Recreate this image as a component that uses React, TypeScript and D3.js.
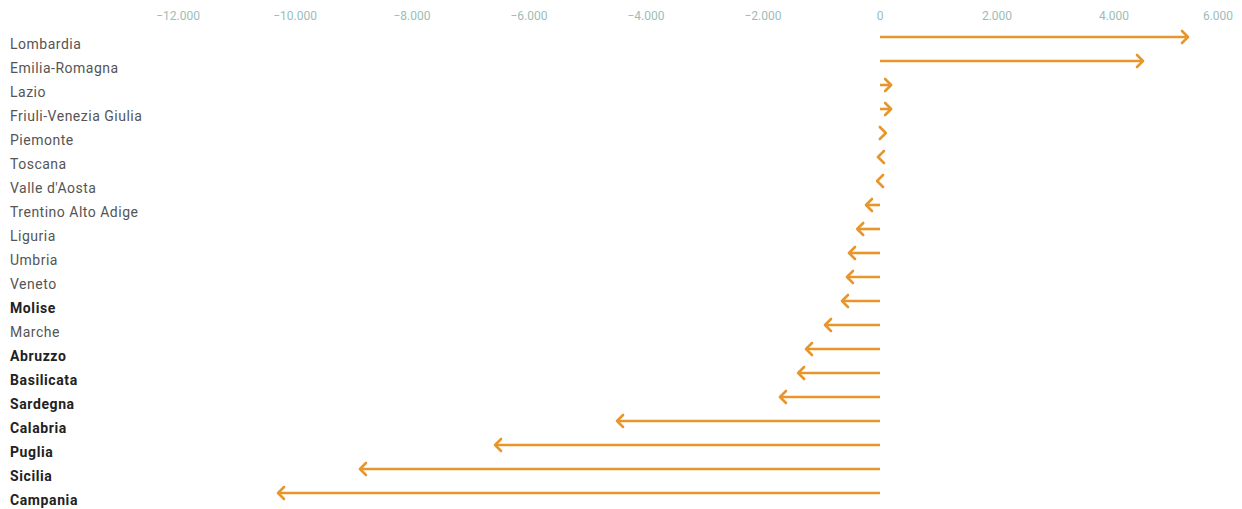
import React from "react";
import * as d3 from "d3";

const regions = [
  "Lombardia", "Emilia-Romagna", "Lazio", "Friuli-Venezia Giulia", "Piemonte",
  "Toscana", "Valle d'Aosta", "Trentino Alto Adige", "Liguria", "Umbria",
  "Veneto", "Molise", "Marche", "Abruzzo", "Basilicata", "Sardegna",
  "Calabria", "Puglia", "Sicilia", "Campania",
];
const values = [
  5265, 4496, 190, 190, 100,
  -35, -50, -240, -390, -530,
  -565, -650, -940, -1265, -1400, -1710,
  -4495, -6580, -8890, -10290,
];
const boldRegions = ["Molise", "Abruzzo", "Basilicata", "Sardegna", "Calabria", "Puglia", "Sicilia", "Campania"];
const tickValues = [-12000, -10000, -8000, -6000, -4000, -2000, 0, 2000, 4000, 6000];
const tickLabels = ["\u221212.000", "\u221210.000", "\u22128.000", "\u22126.000", "\u22124.000", "\u22122.000", "0", "2.000", "4.000", "6.000"];

const W = 1242;
const H = 509;
const ORANGE = "#E8962B";

export default function App() {
  const x = d3.scaleLinear().domain([-12000, 6000]).range([178, 1231]);
  const x0 = x(0);
  const y = d3.scalePoint<string>().domain(regions).range([37, 493]);
  const head = 6;

  return (
    <svg width={W} height={H} style={{ position: "absolute", left: 0, top: 0, background: "#fff" }}
      fontFamily="Roboto, 'Noto Sans', sans-serif">
      {tickValues.map((t, i) => (
        <text key={t} x={Math.min(x(t), W - 24)} y={20} textAnchor="middle" fontSize={12} fill="#9cbdb6">
          {tickLabels[i]}
        </text>
      ))}
      {regions.map((r, i) => {
        const yy = y(r)!;
        const x1 = x(values[i]);
        const dir = values[i] >= 0 ? 1 : -1;
        const bold = boldRegions.includes(r);
        return (
          <g key={r}>
            <text x={10} y={yy + 12} fontSize={14} letterSpacing={bold ? 0.6 : 0.5} fontWeight={bold ? 700 : 400}
              fill={bold ? "#222" : "#555"}>{r}</text>
            {Math.abs(x1 - x0) > head && (
              <line x1={x0} x2={x1} y1={yy} y2={yy} stroke={ORANGE} strokeWidth={2.6} />
            )}
            <path
              d={`M${x1 - dir * head},${yy - head} L${x1},${yy} L${x1 - dir * head},${yy + head}`}
              fill="none" stroke={ORANGE} strokeWidth={2.6} strokeLinecap="round" strokeLinejoin="round" />
          </g>
        );
      })}
    </svg>
  );
}
